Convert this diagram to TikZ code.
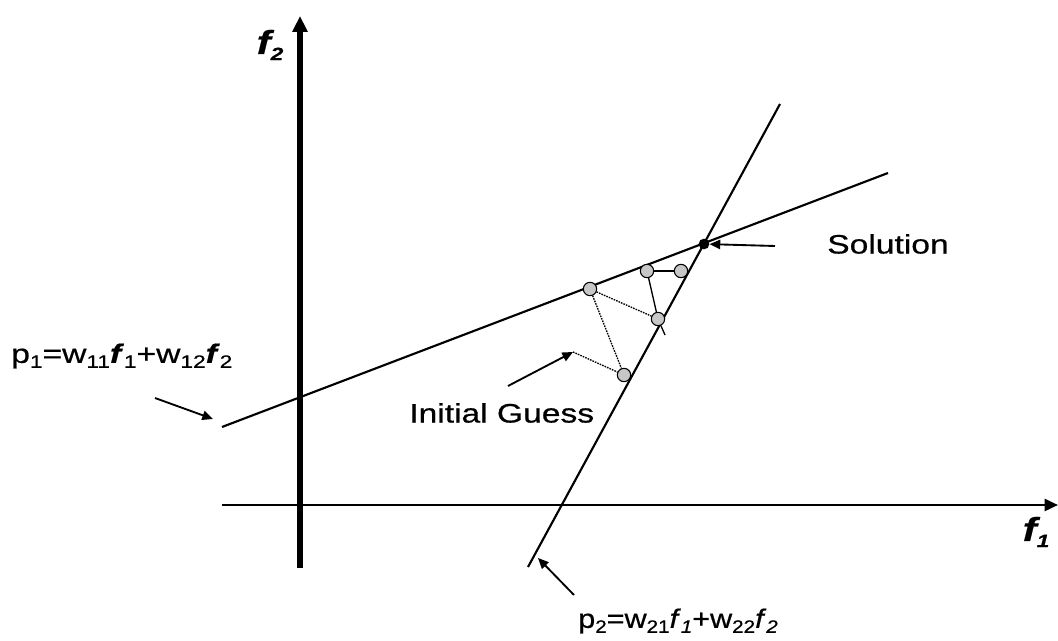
\documentclass[tikz,border=0pt]{standalone}
\usepackage{fontspec}
\setmainfont{Liberation Sans}[FakeStretch=1.26,FakeBold=0.6]
\usetikzlibrary{arrows.meta}
\newcommand\lsub[1]{\raisebox{-0.35ex}{\fontsize{13.5}{13.5}\selectfont #1}}
\newcommand\fb{\textbf{\textit{f}}}
\begin{document}
\begin{tikzpicture}[x=0.75pt,y=-0.75pt,
  lab/.style={font=\fontsize{20}{20}\selectfont, inner sep=0pt},
  axlab/.style={font=\fontsize{25}{25}\selectfont\bfseries\itshape, inner sep=0pt},
  ln/.style={line width=1.6pt},
  pt/.style={circle, draw, line width=0.8pt, fill=black!22, minimum size=10pt, inner sep=0pt},
  dotln/.style={line width=1pt, dash pattern=on 1.2pt off 0.8pt},
  pointer/.style={line width=1.4pt, -{Triangle[length=8pt,width=7pt]}}]
\useasboundingbox (0,0) rectangle (1058,641);
% axes
\coordinate (yb) at (300,568);
\coordinate (yt) at (300,16);
\coordinate (xl) at (222,505);
\coordinate (xr) at (1058,505);
\draw[line width=3.8pt, -{Triangle[length=12pt,width=11pt]}] (yb) -- (yt);
\draw[line width=1.9pt, -{Triangle[length=10pt,width=9pt]}] (xl) -- (xr);
\node[axlab] (f2) at (270,45) {f\lsub{\bfseries\itshape 2}};
\node[axlab] (f1) at (1036,532) {f\lsub{\bfseries\itshape 1}};
% lines
\coordinate (a1) at (222,427);
\coordinate (a2) at (888,173);
\coordinate (b1) at (528,567);
\coordinate (b2) at (780,104);
\draw[ln] (a1) -- (a2);
\draw[ln] (b1) -- (b2);
% points
\node[pt] (c1) at (590,289) {};
\node[pt] (c0) at (624,375) {};
\node[pt] (c2) at (658,319) {};
\node[pt] (c3) at (647,271) {};
\node[pt] (c4) at (681,271) {};
\coordinate (c3e) at (665,335);
\node[circle, fill=black, minimum size=8pt, inner sep=0pt] (sol) at (704,244) {};
\draw[dotln] (c1) -- (c0);
\draw[dotln] (c1) -- (c2);
\draw[line width=1pt] (c3) -- (c2);
\draw[line width=1pt] (c2) -- (c3e);
\draw[line width=1pt] (c3) -- (c4);
% labels
\node[lab, anchor=west] (sl) at (827,244) {Solution};
\coordinate (sa) at (775,246);
\draw[pointer] (sa) -- (sol);
\node[lab, anchor=west] (ig) at (409,413) {Initial Guess};
\coordinate (igs) at (508,386);
\coordinate (igt) at (573,352);
\draw[pointer] (igs) -- (igt);
\draw[dotln] (igt) -- (c0);
\node[lab, anchor=west] (p1) at (11,356) {p\lsub{1}=w\lsub{11}\fb\lsub{1}+w\lsub{12}\fb\lsub{2}};
\coordinate (p1s) at (155,398);
\coordinate (p1t) at (213,419);
\draw[pointer] (p1s) -- (p1t);
\node[lab, anchor=west] (p2) at (578,621) {\scalebox{0.91}[1]{p\lsub{2}=w\lsub{21}\textit{f}\lsub{\itshape 1}+w\lsub{22}\textit{f}\lsub{\itshape 2}}};
\coordinate (p2s) at (574,595);
\coordinate (p2t) at (538,558);
\draw[pointer] (p2s) -- (p2t);
\end{tikzpicture}
\end{document}
